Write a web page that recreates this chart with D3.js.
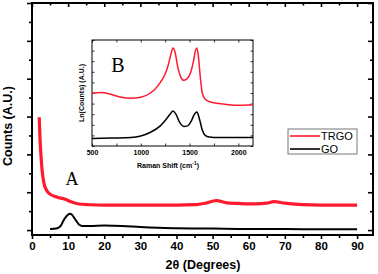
<!DOCTYPE html>
<html>
<head>
<meta charset="utf-8">
<script src="https://cdn.jsdelivr.net/npm/d3@7"></script>
<style>
  body { margin: 0; background: #fff; }
  text { font-family: "Liberation Sans", Arial, sans-serif; }
</style>
</head>
<body>
<div id="chart"></div>
<script>
// main XRD data (2theta, counts in arbitrary units)
var trgoX = [2.0, 2.2, 2.5, 2.8, 3.3, 4, 5, 7, 9, 11, 13, 16, 20, 25, 30, 35, 40, 45, 48, 51, 54, 58, 62, 65, 67, 70, 75, 80, 85, 90];
var trgoY = [2.98, 2.45, 1.95, 1.58, 1.24, 1.06, 0.95, 0.87, 0.82, 0.74, 0.69, 0.67, 0.66, 0.66, 0.66, 0.66, 0.66, 0.67, 0.71, 0.78, 0.72, 0.70, 0.69, 0.71, 0.75, 0.71, 0.67, 0.66, 0.66, 0.66];
var goX = [5, 7, 8, 9, 10, 10.5, 11, 12, 13, 14, 16, 20, 25, 30, 35, 40, 50, 60, 70, 80, 90];
var goY = [0.03, 0.05, 0.12, 0.30, 0.41, 0.43, 0.41, 0.28, 0.15, 0.11, 0.11, 0.12, 0.11, 0.08, 0.06, 0.05, 0.04, 0.03, 0.03, 0.02, 0.02];

// inset Raman data (shift, ln counts)
var ramanRedX = [500, 600, 700, 800, 900, 1000, 1100, 1150, 1200, 1250, 1280, 1310, 1330, 1350, 1380, 1410, 1440, 1470, 1510, 1540, 1560, 1575, 1590, 1610, 1630, 1660, 1700, 1800, 1900, 2000, 2150];
var ramanRedY = [5.0, 5.05, 4.85, 4.6, 4.5, 4.6, 5.0, 5.4, 6.0, 6.8, 7.6, 8.7, 9.25, 8.9, 7.4, 6.5, 6.2, 6.3, 6.9, 8.0, 9.0, 9.25, 8.5, 6.5, 5.0, 4.4, 4.2, 4.0, 3.9, 3.85, 3.9];
var ramanBlackX = [500, 700, 900, 1000, 1100, 1200, 1250, 1300, 1330, 1360, 1400, 1440, 1480, 1520, 1550, 1575, 1600, 1630, 1660, 1700, 1800, 2000, 2150];
var ramanBlackY = [0.7, 0.75, 0.8, 0.95, 1.3, 1.9, 2.4, 3.0, 3.3, 3.0, 2.2, 1.85, 1.9, 2.4, 3.0, 3.2, 2.6, 1.5, 1.0, 0.85, 0.8, 0.8, 0.8];

var xTicks = [0, 10, 20, 30, 40, 50, 60, 70, 80, 90];
var insetTicks = [500, 1000, 1500, 2000];

var svg = d3.select("#chart").append("svg")
  .attr("width", 378)
  .attr("height", 274);

var x = d3.scaleLinear().domain([0, 94.4]).range([32, 373]);
var y = d3.scaleLinear().domain([-0.13, 6.0]).range([235, 3]);

var majorX = d3.range(0, 95, 10), minorX = d3.range(5, 95, 10);
var majorY = d3.range(0, 6.01, 1), minorY = d3.range(0.5, 6, 1);

function drawAxis(axis, tr) {
  var g = svg.append("g").attr("transform", tr).call(axis);
  g.select(".domain").remove();
  g.selectAll(".tick line").attr("stroke", "#000").attr("stroke-width", 1.6);
  return g;
}

// bottom axis with labels
var bottom = drawAxis(d3.axisBottom(x).tickValues(xTicks).tickSize(4).tickPadding(3), "translate(0,235)");
bottom.selectAll("text").attr("font-size", "11.5px").attr("font-weight", "bold").attr("fill", "#000");
drawAxis(d3.axisBottom(x).tickValues(minorX).tickSize(3).tickFormat(""), "translate(0,235)");
// top (inward)
drawAxis(d3.axisTop(x).tickValues(majorX).tickSize(-4).tickFormat(""), "translate(0,3)");
drawAxis(d3.axisTop(x).tickValues(minorX).tickSize(-2.5).tickFormat(""), "translate(0,3)");
// left (outward)
drawAxis(d3.axisLeft(y).tickValues(majorY).tickSize(5).tickFormat(""), "translate(32,0)");
drawAxis(d3.axisLeft(y).tickValues(minorY).tickSize(3).tickFormat(""), "translate(32,0)");
// right (inward)
drawAxis(d3.axisRight(y).tickValues(majorY).tickSize(-5).tickFormat(""), "translate(373,0)");
drawAxis(d3.axisRight(y).tickValues(minorY).tickSize(-3).tickFormat(""), "translate(373,0)");

// frame
svg.append("rect")
  .attr("x", 32).attr("y", 3)
  .attr("width", 341).attr("height", 232)
  .attr("fill", "none").attr("stroke", "#000").attr("stroke-width", 2);

var line = d3.line().x(d => x(d[0])).y(d => y(d[1])).curve(d3.curveMonotoneX);

svg.append("path")
  .datum(d3.zip(trgoX, trgoY))
  .attr("d", line)
  .attr("fill", "none").attr("stroke", "#ff1a2e").attr("stroke-width", 3.2);

svg.append("path")
  .datum(d3.zip(goX, goY))
  .attr("d", line)
  .attr("fill", "none").attr("stroke", "#000").attr("stroke-width", 2);

// axis titles
svg.append("text")
  .attr("x", 203).attr("y", 269)
  .attr("text-anchor", "middle")
  .attr("font-size", "12.5px").attr("font-weight", "bold")
  .text("2θ (Degrees)");

svg.append("text")
  .attr("transform", "translate(12,126) rotate(-90)")
  .attr("text-anchor", "middle")
  .attr("font-size", "12.5px").attr("font-weight", "bold")
  .text("Counts (A.U.)");

svg.append("text")
  .attr("x", 72).attr("y", 185)
  .attr("text-anchor", "middle")
  .style("font-family", "'Liberation Serif', 'Times New Roman', serif")
  .attr("font-size", "18px")
  .text("A");

// legend
var legend = svg.append("g");
legend.append("rect")
  .attr("x", 288).attr("y", 129)
  .attr("width", 69).attr("height", 25)
  .attr("fill", "#fff").attr("stroke", "#777").attr("stroke-width", 1);
var legItems = [["TRGO", "#ff1a2e", 136], ["GO", "#000", 149]];
legItems.forEach(function(it) {
  legend.append("line")
    .attr("x1", 290).attr("x2", 320)
    .attr("y1", it[2]).attr("y2", it[2])
    .attr("stroke", it[1]).attr("stroke-width", 1.6);
  legend.append("text")
    .attr("x", 321).attr("y", it[2] + 4)
    .attr("font-size", "11px")
    .text(it[0]);
});

// inset
var ix = d3.scaleLinear().domain([500, 2150]).range([92, 253]);
var iy = d3.scaleLinear().domain([0, 10]).range([146, 40]);

svg.append("rect")
  .attr("x", 92).attr("y", 40)
  .attr("width", 161).attr("height", 106)
  .attr("fill", "#fff");

var insetMinor = d3.range(500, 2151, 250);
var iyTicks = d3.range(0, 10.01, 1);

function insetAxis(axis, tr) {
  var g = svg.append("g").attr("transform", tr).call(axis);
  g.select(".domain").remove();
  g.selectAll(".tick line").attr("stroke", "#000").attr("stroke-width", 0.8);
  return g;
}

var ib = insetAxis(d3.axisBottom(ix).tickValues(insetTicks).tickSize(0).tickPadding(4).tickFormat(d3.format("d")), "translate(0,146)");
ib.selectAll("text").attr("font-size", "7px").attr("font-weight", "bold").attr("fill", "#000");
insetAxis(d3.axisBottom(ix).tickValues(insetMinor).tickSize(-2.5).tickFormat(""), "translate(0,146)");
insetAxis(d3.axisTop(ix).tickValues(insetMinor).tickSize(-2.5).tickFormat(""), "translate(0,40)");
insetAxis(d3.axisLeft(iy).tickValues(iyTicks).tickSize(-2.5).tickFormat(""), "translate(92,0)");
insetAxis(d3.axisRight(iy).tickValues(iyTicks).tickSize(-2.5).tickFormat(""), "translate(253,0)");

svg.append("rect")
  .attr("x", 92).attr("y", 40)
  .attr("width", 161).attr("height", 106)
  .attr("fill", "none").attr("stroke", "#000").attr("stroke-width", 1);

var iline = d3.line().x(d => ix(d[0])).y(d => iy(d[1])).curve(d3.curveMonotoneX);

svg.append("path")
  .datum(d3.zip(ramanRedX, ramanRedY))
  .attr("d", iline)
  .attr("fill", "none").attr("stroke", "#ff1a2e").attr("stroke-width", 1.5);

svg.append("path")
  .datum(d3.zip(ramanBlackX, ramanBlackY))
  .attr("d", iline)
  .attr("fill", "none").attr("stroke", "#000").attr("stroke-width", 1.5);

svg.append("text")
  .attr("x", 168).attr("y", 168)
  .attr("text-anchor", "middle")
  .attr("font-size", "7px").attr("font-weight", "bold")
  .html("Raman Shift (cm<tspan dy='-3' font-size='5px'>-1</tspan><tspan dy='3'>)</tspan>");

svg.append("text")
  .attr("transform", "translate(84,93) rotate(-90)")
  .attr("text-anchor", "middle")
  .attr("font-size", "7px").attr("font-weight", "bold")
  .text("Ln(Counts) (A.U.)");

svg.append("text")
  .attr("x", 118).attr("y", 72)
  .attr("text-anchor", "middle")
  .style("font-family", "'Liberation Serif', 'Times New Roman', serif")
  .attr("font-size", "20px")
  .text("B");
</script>
</body>
</html>
